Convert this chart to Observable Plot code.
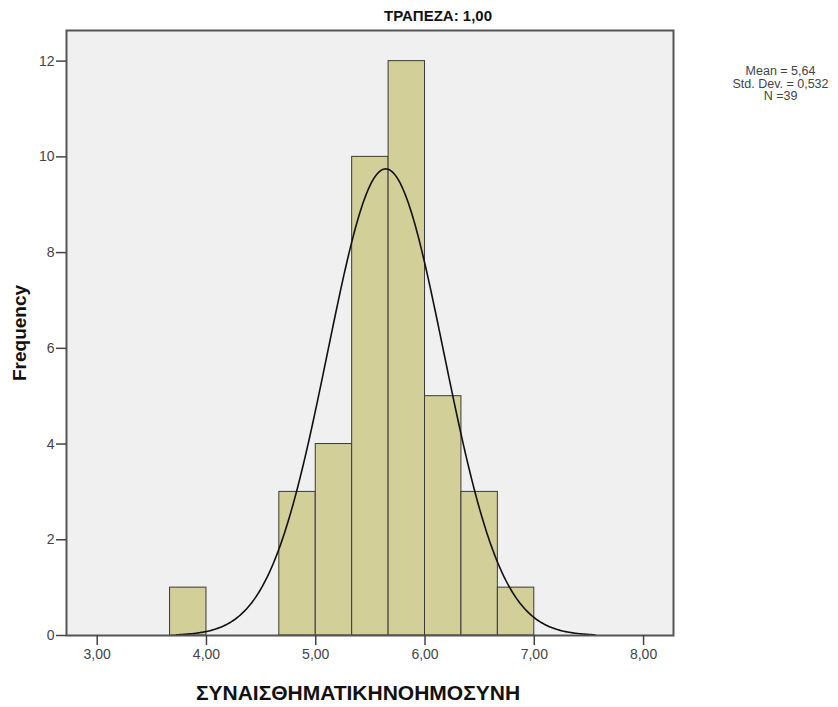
<!DOCTYPE html>
<html>
<head>
<meta charset="utf-8">
<script src="https://cdn.jsdelivr.net/npm/d3@7"></script>
<script src="https://cdn.jsdelivr.net/npm/@observablehq/plot@0.6"></script>
<style>
  html, body { margin: 0; padding: 0; background: #ffffff; }
  svg { font-family: "Liberation Sans", Arial, sans-serif; }
</style>
</head>
<body>
<div id="chart"></div>
<script>
// ---- data ----
const binLower = [3.6667, 4.6667, 5.0, 5.3333, 5.6667, 6.0, 6.3333, 6.6667];
const binUpper = [4.0, 5.0, 5.3333, 5.6667, 6.0, 6.3333, 6.6667, 7.0];
const counts   = [1, 3, 4, 10, 12, 5, 3, 1];
const xTicks = [3, 4, 5, 6, 7, 8];
const yTicks = [0, 2, 4, 6, 8, 10, 12];
const statMean = 5.64;
const statSD = 0.532;
const statN = 39;
const binWidth = 1 / 3;
const panelTitle = "ΤΡΑΠΕΖΑ: 1,00";
const xLabel = "ΣΥΝΑΙΣΘΗΜΑΤΙΚΗΝΟΗΜΟΣΥΝΗ";
const yLabel = "Frequency";
const statsText = ["Mean = 5,64", "Std. Dev. = 0,532", "N =39"];

const bars = binLower.map((lo, i) => ({lo, hi: binUpper[i], count: counts[i]}));

// normal curve overlay defined by the stated mean, sd and N (as SPSS draws it)
const curve = d3.range(0, 401).map(i => {
  const x = statMean - 3.6 * statSD + i * (7.2 * statSD / 400);
  const z = (x - statMean) / statSD;
  return {x, y: statN * binWidth * Math.exp(-0.5 * z * z) / (statSD * Math.sqrt(2 * Math.PI))};
});

const fmtComma = d => d.toFixed(2).replace(".", ",");

const chart = Plot.plot({
  width: 838,
  height: 707,
  marginLeft: 66,
  marginRight: 165,
  marginTop: 30,
  marginBottom: 72,
  style: {background: "#ffffff", fontFamily: "'Liberation Sans', Arial, sans-serif"},
  x: {domain: [2.719, 8.274]},
  y: {domain: [0, 12.64]},
  marks: [
    Plot.frame({fill: "#f0f0f0", stroke: "none"}),
    Plot.rect(bars, {x1: "lo", x2: "hi", y1: 0, y2: "count", fill: "#d3cf98", stroke: "#3a3a3a", strokeWidth: 1}),
    Plot.line(curve, {x: "x", y: "y", stroke: "#111111", strokeWidth: 1.6}),
    Plot.frame({stroke: "#555555", strokeWidth: 2}),
    Plot.axisY({ticks: yTicks, tickSize: 10, tickPadding: 2, tickFormat: d => String(d), fontSize: 14, fill: "#444", stroke: "#444", strokeWidth: 1.5,
      label: yLabel, labelAnchor: "center", labelArrow: "none", labelOffset: 54}),
    Plot.axisX({ticks: xTicks, tickSize: 10, tickPadding: 4, tickFormat: fmtComma, fontSize: 14, fill: "#444", stroke: "#444", strokeWidth: 1.5,
      label: null}),
    Plot.text([panelTitle], {frameAnchor: "top", dx: 68, dy: -14, lineAnchor: "middle", fontWeight: "bold", fontSize: 15, fill: "#111"}),
    Plot.text([xLabel], {frameAnchor: "bottom", dx: -12, dy: 58, lineAnchor: "middle", fontWeight: "bold", fontSize: 21, fill: "#111"}),
    Plot.text([statsText.join("\n")], {frameAnchor: "top-right", dx: 107, dy: 53, textAnchor: "middle", lineAnchor: "middle", lineHeight: 1.0, fontSize: 12.5, fill: "#444"})
  ]
});

chart.querySelectorAll("[aria-label='y-axis label'] text, [aria-label='y-axis label']").forEach(t => {
  t.setAttribute("font-weight", "bold");
  t.setAttribute("font-size", "19");
  t.setAttribute("fill", "#111");
});
document.getElementById("chart").appendChild(chart);
</script>
</body>
</html>
